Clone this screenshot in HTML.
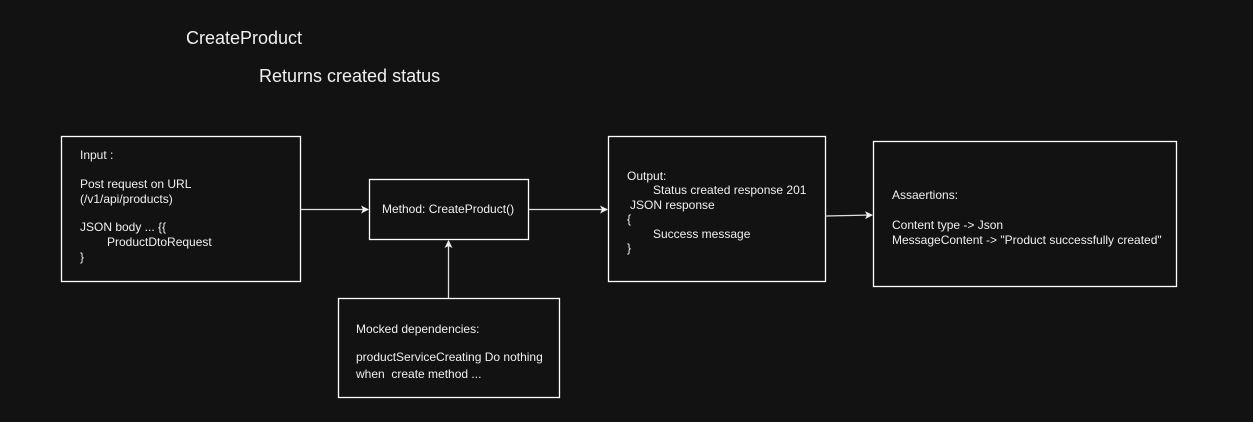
<!DOCTYPE html>
<html><head><meta charset="utf-8"><style>
html,body{margin:0;padding:0;background:#121212;width:1253px;height:422px;overflow:hidden}
svg{display:block}
text{font-family:"Liberation Sans",sans-serif;fill:#f0f0f0;font-size:12px}
</style></head><body>
<svg width="1253" height="422" viewBox="0 0 1253 422" xmlns="http://www.w3.org/2000/svg">
<defs><marker id="a" markerWidth="8" markerHeight="8" refX="7" refY="4" orient="auto" markerUnits="userSpaceOnUse"><path d="M0,0 L8,4 L0,8 L2,4 Z" fill="#f0f0f0"/></marker></defs>
<text x="186" y="44" style="font-size:18px">CreateProduct</text>
<text x="259" y="82" style="font-size:18px">Returns created status</text>
<g fill="#121212" stroke="#ffffff" stroke-width="1.3">
<rect x="61.5" y="136.5" width="239" height="145"/>
<rect x="369.5" y="179.5" width="159" height="60"/>
<rect x="608.5" y="136.5" width="217" height="145"/>
<rect x="873.5" y="141.5" width="303" height="145"/>
<rect x="338.5" y="298.5" width="221" height="99"/>
</g>
<g stroke="#e0e0e0" stroke-width="1.3" fill="none" marker-end="url(#a)">
<line x1="301" y1="209.5" x2="368" y2="209.5"/>
<line x1="529" y1="209.5" x2="607" y2="209.5"/>
<line x1="826" y1="216" x2="872" y2="215"/>
<line x1="448.5" y1="298" x2="448.5" y2="241"/>
</g>
<text x="80" y="159">Input :</text>
<text x="80" y="188">Post request on URL</text>
<text x="80" y="203">(/v1/api/products)</text>
<text x="80" y="231">JSON body ... {{</text>
<text x="107" y="246">ProductDtoRequest</text>
<text x="80" y="261">}</text>
<text x="382" y="213">Method: CreateProduct()</text>
<text x="627" y="180">Output:</text>
<text x="653" y="194">Status created response 201</text>
<text x="630" y="209">JSON response</text>
<text x="627" y="223">{</text>
<text x="653" y="238">Success message</text>
<text x="627" y="252">}</text>
<text x="892" y="199">Assaertions:</text>
<text x="892" y="229">Content type -&gt; Json</text>
<text x="892" y="244">MessageContent -&gt; "Product successfully created"</text>
<text x="356" y="333">Mocked dependencies:</text>
<text x="356" y="361">productServiceCreating Do nothing</text>
<text x="356" y="378" xml:space="preserve">when  create method ...</text>
</svg>
</body></html>
